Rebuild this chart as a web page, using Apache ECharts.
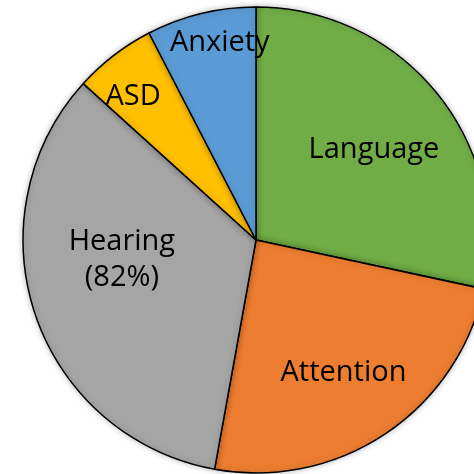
<!DOCTYPE html>
<html>
<head>
<meta charset="utf-8">
<script src="https://cdn.jsdelivr.net/npm/echarts@6/dist/echarts.min.js"></script>
<style>
  html, body { margin: 0; padding: 0; background: #fff; }
  #chart { width: 474px; height: 474px; }
</style>
</head>
<body>
<div id="chart"></div>
<script>
// slice shares (percent of circle)
const categories = ['Language', 'Attention', 'Hearing', 'ASD', 'Anxiety']
const values = [28.4, 24.5, 33.9, 5.7, 7.6]
const labelTexts = ['Language', 'Attention', 'Hearing\n(82%)', 'ASD', 'Anxiety']
const colors = ['#70AD47', '#ED7D31', '#A5A5A5', '#FFC000', '#5B9BD5']

// nudges from the default inside position, to match where the labels sit
const labelShift = [[25, -15], [21, 33], [-21, -19], [-50, -49], [-8, -81]]

const chart = echarts.init(document.getElementById('chart'))

chart.setOption({
  animation: false,
  series: [{
    type: 'pie',
    center: [256, 240],
    radius: 233,
    startAngle: 90,
    clockwise: true,
    silent: true,
    itemStyle: {
      borderColor: '#000',
      borderWidth: 1.5,
      shadowBlur: 6,
      shadowColor: 'rgba(0,0,0,0.25)'
    },
    label: {
      show: true,
      position: 'inside',
      color: '#000',
      fontFamily: 'Open Sans',
      fontSize: 29,
      lineHeight: 36,
      formatter: p => labelTexts[p.dataIndex]
    },
    labelLayout: p => ({
      dx: labelShift[p.dataIndex][0],
      dy: labelShift[p.dataIndex][1]
    }),
    data: categories.map((name, i) => ({
      name,
      value: values[i],
      itemStyle: { color: colors[i] }
    }))
  }]
})
</script>
</body>
</html>
